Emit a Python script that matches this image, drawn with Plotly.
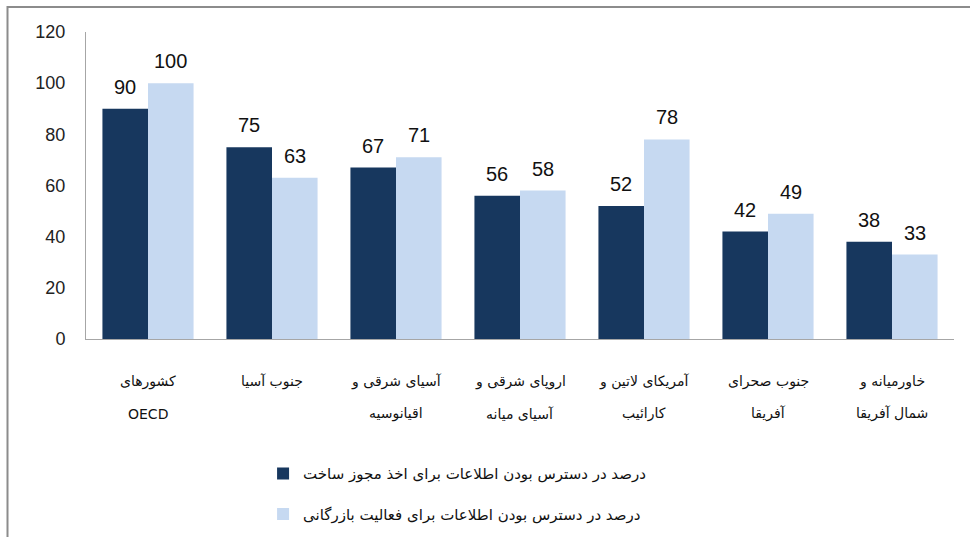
import plotly.graph_objects as go

cat_line1 = ["کشورهای", "جنوب آسیا", "آسیای شرقی و", "اروپای شرقی و",
             "آمریکای لاتین و", "جنوب صحرای", "خاورمیانه و"]
cat_line2 = ["OECD", "", "اقیانوسیه", "آسیای میانه", "کارائیب", "آفریقا", "شمال آفریقا"]
categories = [a + " " + b for a, b in zip(cat_line1, cat_line2)]
series_construction = [90, 75, 67, 56, 52, 42, 38]
series_business = [100, 63, 71, 58, 78, 49, 33]
name_construction = "درصد در دسترس بودن اطلاعات برای اخذ مجوز ساخت"
name_business = "درصد در دسترس بودن اطلاعات برای فعالیت بازرگانی"
y_ticks = [0, 20, 40, 60, 80, 100, 120]

W, H = 970, 537
ML, MR, MT, MB = 86, 16, 32, 198
BARGAP = 0.265
plot_w = W - ML - MR
plot_h = H - MT - MB
half_bar = plot_w / len(categories) * (1 - BARGAP) / 4

fig = go.Figure()
fig.add_trace(go.Bar(
    x=categories, y=series_construction, name=name_construction,
    marker=dict(color="#17375E", line=dict(width=0)), legendgroup="a",
))
fig.add_trace(go.Bar(
    x=categories, y=series_business, name=name_business,
    marker=dict(color="#C6D9F1", line=dict(width=0)), legendgroup="b",
))

annotations = []
label_font = dict(family="Liberation Sans, Arial", size=20, color="#111")
for c, v in zip(categories, series_construction):
    annotations.append(dict(x=c, y=v, xref="x", yref="y", text=str(v), showarrow=False,
                            yanchor="bottom", xshift=-half_bar, yshift=9, font=label_font))
for c, v in zip(categories, series_business):
    annotations.append(dict(x=c, y=v, xref="x", yref="y", text=str(v), showarrow=False,
                            yanchor="bottom", xshift=half_bar, yshift=9, font=label_font))
cat_font = dict(family="DejaVu Sans", size=14, color="#111")
for c, l1, l2 in zip(categories, cat_line1, cat_line2):
    annotations.append(dict(x=c, y=-0.137, xref="x", yref="paper", text=l1, showarrow=False,
                            yanchor="middle", font=cat_font))
    if l2:
        annotations.append(dict(x=c, y=-0.243, xref="x", yref="paper", text=l2, showarrow=False,
                                yanchor="middle", font=cat_font))

fx0 = (7.5 - ML) / plot_w
fy1 = 1 + (MT - 7) / plot_h
fy0 = -(MB + 10) / plot_h
fx1 = 1 + (MR + 10) / plot_w
frame_path = f"M {fx0} {fy0} L {fx0} {fy1} L {fx1} {fy1}"

fig.update_layout(
    width=W, height=H,
    margin=dict(l=ML, r=MR, t=MT, b=MB, autoexpand=False),
    paper_bgcolor="white", plot_bgcolor="white",
    barmode="group", bargap=BARGAP, bargroupgap=0,
    showlegend=True,
    legend=dict(
        x=0.204, y=-0.385, xanchor="left", yanchor="top",
        font=dict(family="DejaVu Sans", size=15, color="#111"),
        tracegroupgap=18, itemsizing="constant",
    ),
    font=dict(family="DejaVu Sans", color="#111"),
    xaxis=dict(
        showline=True, linecolor="#A6A6A6", linewidth=1,
        ticks="", showticklabels=False, showgrid=False,
    ),
    yaxis=dict(
        range=[0, 120], tickvals=y_ticks,
        showline=True, linecolor="#A6A6A6", linewidth=1,
        showgrid=False, ticks="", zeroline=False,
        tickfont=dict(family="Liberation Sans, Arial", size=18, color="#222"),
        ticklabelstandoff=16,
    ),
    annotations=annotations,
    shapes=[dict(
        type="path", xref="paper", yref="paper", path=frame_path,
        line=dict(color="#8C8C8C", width=2),
    )],
)

fig.write_html("out.html", config={"displayModeBar": False},
               post_script="document.body.style.margin='0';")
